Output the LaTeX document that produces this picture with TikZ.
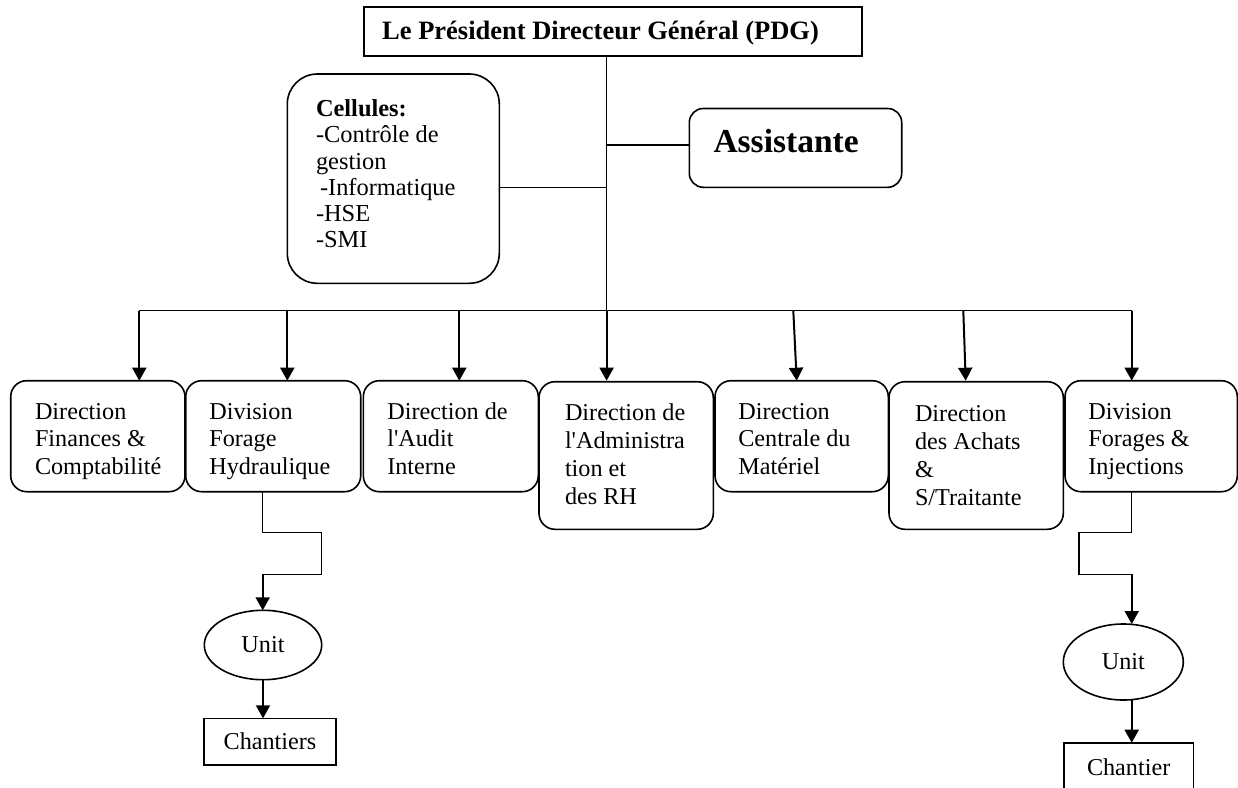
\documentclass[tikz,border=0pt]{standalone}
\usepackage{fontspec}
\setmainfont{Liberation Serif}
\usetikzlibrary{arrows.meta,shapes.geometric,calc}

\newcommand\bodyfont{\fontsize{24.2pt}{27.8pt}\selectfont}
\newcommand\cellfont{\fontsize{24.4pt}{26.2pt}\selectfont}
\newcommand\titlefont{\fontsize{26.5pt}{30pt}\selectfont\bfseries}
\newcommand\assfont{\fontsize{33.5pt}{38pt}\selectfont\bfseries}
\newcommand\firstline{\rule{0pt}{17pt}}
\newcommand\apos{\textquotesingle}

\tikzset{
  frame/.style={draw, line width=1.6pt, inner sep=0pt, outer sep=0pt},
  unitbox/.style={frame, rounded corners=16pt},
  label/.style={inner sep=0pt, outer sep=0pt, align=left, font=\bodyfont, anchor=north west},
  link/.style={line width=1.3pt},
  arr/.style={line width=2pt, -{Triangle[length=13pt,width=14pt]}},
}

\begin{document}
\begin{tikzpicture}[x=1pt,y=-1pt]
\useasboundingbox (0,0) rectangle (1238,787);
\clip (0,0) rectangle (1238,787);
\fill[white] (0,0) rectangle (1238,787);

% top of the chart
\node[frame, minimum width=497.7pt, minimum height=49.3pt] (pdg) at (612.85,31.35) {};
\node[inner sep=0pt, anchor=base west, font=\titlefont] (pdgt) at (382,39.3)
  {Le Président Directeur Général (PDG)};

\node[frame, rounded corners=30pt, minimum width=212pt, minimum height=209.3pt] (cel) at (393.3,178.65) {};
\node[label, font=\cellfont] (celt) at (316,99.7)
  {\firstline\textbf{Cellules:}\\-Contrôle de\\gestion\\\hspace{4pt}-Informatique\\-HSE\\-SMI};

\node[frame, rounded corners=14pt, minimum width=212.4pt, minimum height=78.8pt] (ass) at (795.5,147.9) {};
\node[inner sep=0pt, anchor=base west, font=\assfont] (asst) at (713.3,152.7) {Assistante};

% directions and divisions
\node[unitbox, minimum width=174.3pt, minimum height=111pt]   (b1) at (97.85,436.2) {};
\node[unitbox, minimum width=175pt,   minimum height=111pt]   (b2) at (273.2,436.2) {};
\node[unitbox, minimum width=175pt,   minimum height=111pt]   (b3) at (450.8,436.2) {};
\node[unitbox, minimum width=174.3pt, minimum height=147.6pt] (b4) at (626.15,455.5) {};
\node[unitbox, minimum width=173.3pt, minimum height=111pt]   (b5) at (801.65,436.2) {};
\node[unitbox, minimum width=174.3pt, minimum height=147.6pt] (b6) at (976.15,455.5) {};
\node[unitbox, minimum width=172.3pt, minimum height=111pt]   (b7) at (1151.15,436.2) {};

\node[label] (t1) at (35,402)     {\firstline Direction\\Finances \&\\Comptabilité};
\node[label] (t2) at (209.3,402)  {\firstline Division\\Forage\\Hydraulique};
\node[label] (t3) at (387.3,402)  {\firstline Direction de\\l\apos Audit\\Interne};
\node[label] (t4) at (565,403.7)  {\firstline Direction de\\l\apos Administra\\tion et\\des RH};
\node[label] (t5) at (738.3,402)  {\firstline Direction\\Centrale du\\Matériel};
\node[label] (t6) at (915,404.7)  {\firstline Direction\\des Achats\\\&\\S/Traitante};
\node[label] (t7) at (1088.3,402) {\firstline Division\\Forages \&\\Injections};

% units and sites
\node[frame, ellipse, minimum width=117.4pt, minimum height=69.4pt, font=\bodyfont] (e1) at (263,645) {Unit};
\node[frame, minimum width=132pt, minimum height=46.7pt, font=\bodyfont] (ch1) at (270,741.65) {Chantiers};
\node[frame, ellipse, minimum width=120pt, minimum height=76pt, font=\bodyfont] (e2) at (1123.3,662) {Unit};
\node[frame, minimum width=129.3pt, minimum height=48.6pt, font=\bodyfont] (ch2) at (1128.65,767) {Chantier};

% trunk and bus
\coordinate (a1) at (139.3,310.7);
\coordinate (a2) at (287.3,310.7);
\coordinate (a3) at (459.3,310.7);
\coordinate (a4) at (606.6,310.7);
\coordinate (a5) at (793.3,310.7);
\coordinate (a6) at (963.3,310.7);
\coordinate (a7) at (1131.7,310.7);
\coordinate (cj) at (606.6,187.3);
\coordinate (aj) at (606.6,145);

\draw[link] (a4 |- pdg.south) -- (a4);
\draw[link] (cj) -- (cj -| cel.east);
\draw[link] (aj) -- (aj -| ass.west);
\draw[link] (a1) -- (a7);

\draw[arr] (a1) -- (a1 |- b1.north);
\draw[arr] (a2) -- (a2 |- b2.north);
\draw[arr] (a3) -- (a3 |- b3.north);
\draw[arr] (a4) -- (a4 |- b1.north);
\draw[arr] (a5) -- ($(a5 |- b5.north)+(3.4,0)$);
\draw[arr] (a6) -- ($(a6 |- b5.north)+(2.4,0)$);
\draw[arr] (a7) -- (a7 |- b7.north);

% left branch
\coordinate (l1) at (262.7,532.3);
\coordinate (l2) at (321.7,532.3);
\coordinate (l3) at (321.7,574.3);
\coordinate (l4) at (262.7,574.3);
\draw[link] (l1 |- b2.south) -- (l1) -- (l2) -- (l3) -- (l4);
\draw[arr] (l4) -- (l4 |- e1.north);
\draw[arr] (e1.south) -- (e1.south |- ch1.north);

% right branch
\coordinate (r1) at (1131.7,532.3);
\coordinate (r2) at (1079,532.3);
\coordinate (r3) at (1079,574.3);
\coordinate (r4) at (1131.7,574.3);
\draw[link] (r1 |- b7.south) -- (r1) -- (r2) -- (r3) -- (r4);
\draw[arr] (r4) -- (r4 |- e2.north);
\draw[arr] (r4 |- e2.south) -- (r4 |- ch2.north);
\end{tikzpicture}
\end{document}
